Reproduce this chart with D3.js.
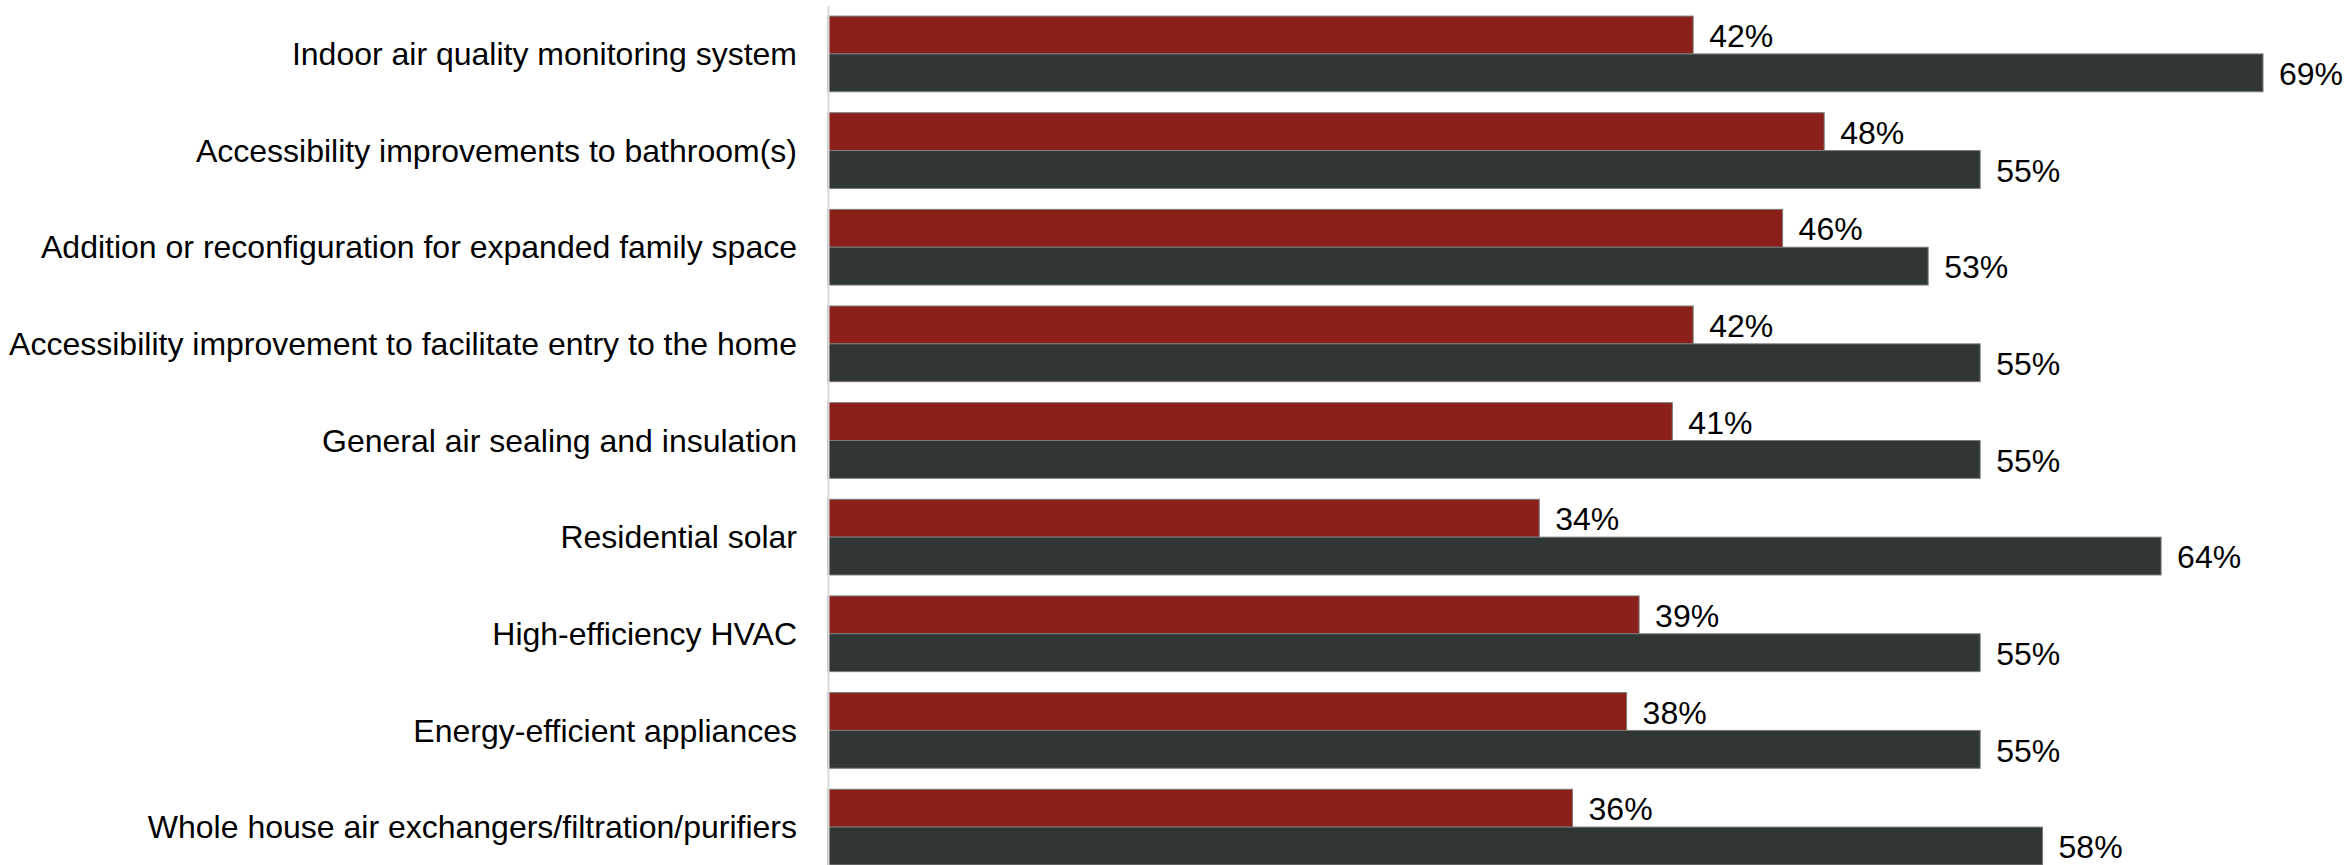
<!DOCTYPE html>
<html>
<head>
<meta charset="utf-8">
<script src="https://cdn.jsdelivr.net/npm/d3@7"></script>
<style>
	html, body { margin: 0; padding: 0; background: #ffffff; }
	svg { display: block; }
	.axis text { font-family: "Liberation Sans", Arial, sans-serif; font-size: 32px; fill: #000000; }
	.valueLabel { font-family: "Liberation Sans", Arial, sans-serif; font-size: 32px; fill: #000000; }
</style>
</head>
<body>
<div id="chart"></div>
<script>
	/**
	 * Data (bar lengths, labels are rounded)
	 */
	let categories = [
		"Indoor air quality monitoring system",
		"Accessibility improvements to bathroom(s)",
		"Addition or reconfiguration for expanded family space",
		"Accessibility improvement to facilitate entry to the home",
		"General air sealing and insulation",
		"Residential solar",
		"High-efficiency HVAC",
		"Energy-efficient appliances",
		"Whole house air exchangers/filtration/purifiers"
	];
	let seriesNames = ["series1", "series2"];
	let series1Values = [41.6, 47.9, 45.9, 41.6, 40.6, 34.2, 39.0, 38.4, 35.8];
	let series2Values = [69.0, 55.4, 52.9, 55.4, 55.4, 64.1, 55.4, 55.4, 58.4];

	/**
	 * Properties
	 */
	let width = 2348;
	let height = 865;
	let axisX = 828;
	let colors = ["#8b201b", "#303634"];

	let data = categories.map(function(c, i) {
		return { key: c, values: [
			{ key: seriesNames[0], value: series1Values[i] },
			{ key: seriesNames[1], value: series2Values[i] }
		] };
	});

	/**
	 * Scales
	 */
	let xScale = d3.scaleLinear()
		.domain([0, 69])
		.range([axisX, 2263]);

	let yScale = d3.scaleBand()
		.domain(categories)
		.range([5.6, 875.4])
		.paddingInner(0.217)
		.paddingOuter(0.1085);

	let y1Scale = d3.scaleBand()
		.domain(seriesNames)
		.range([0, yScale.bandwidth()]);

	let colorScale = d3.scaleOrdinal()
		.domain(seriesNames)
		.range(colors);

	let svg = d3.select("#chart").append("svg")
		.attr("width", width)
		.attr("height", height);

	// Bars
	let seriesGroup = svg.selectAll(".seriesGroup")
		.data(data)
		.enter().append("g")
		.attr("class", "seriesGroup")
		.attr("transform", function(d) { return "translate(0," + yScale(d.key) + ")"; });

	seriesGroup.selectAll(".bar")
		.data(function(d) { return d.values; })
		.enter().append("rect")
		.attr("class", "bar")
		.attr("x", xScale(0))
		.attr("y", function(d) { return y1Scale(d.key); })
		.attr("width", function(d) { return xScale(d.value) - xScale(0); })
		.attr("height", y1Scale.bandwidth())
		.attr("fill", function(d) { return colorScale(d.key); })
		.attr("stroke", "#7a7a7a")
		.attr("stroke-width", 1);

	// Value labels
	seriesGroup.selectAll(".valueLabel")
		.data(function(d) { return d.values; })
		.enter().append("text")
		.attr("class", "valueLabel")
		.attr("x", function(d) { return xScale(d.value) + 16; })
		.attr("y", function(d) { return y1Scale(d.key) + y1Scale.bandwidth() / 2; })
		.attr("dy", "0.38em")
		.text(function(d) { return Math.round(d.value) + "%"; });

	// Y Axis
	let yAxis = d3.axisLeft(yScale)
		.tickSize(0)
		.tickSizeOuter(0)
		.tickPadding(31);

	let axisG = svg.append("g")
		.attr("class", "yAxis axis")
		.attr("transform", "translate(" + axisX + ",0)")
		.call(yAxis);

	axisG.attr("font-family", null).attr("font-size", null);
	axisG.select(".domain")
		.attr("stroke", "#d9d9d9")
		.attr("stroke-width", 2);
	axisG.selectAll(".tick text")
		.attr("dy", "0.35em");
</script>
</body>
</html>
